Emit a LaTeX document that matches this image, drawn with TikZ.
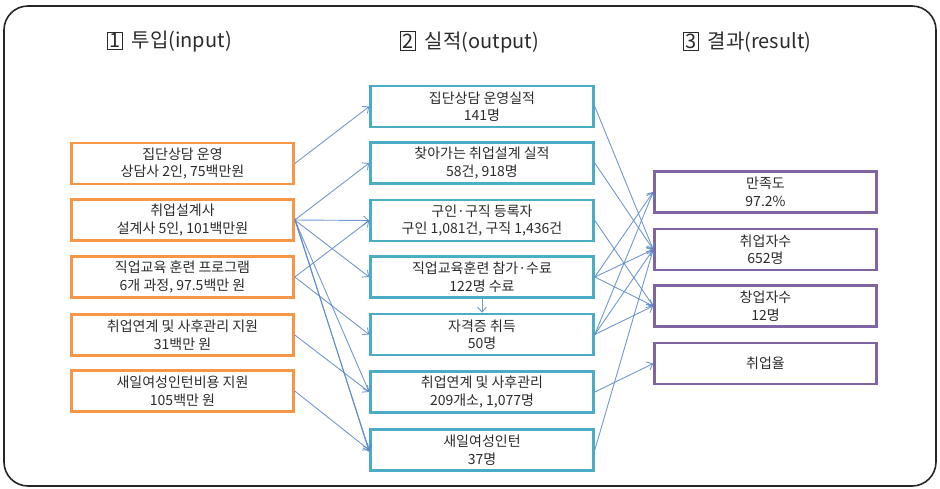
\documentclass[tikz,border=0pt]{standalone}
\usepackage{fontspec}
\setmainfont{Noto Sans CJK KR}
\newfontfamily\kr{Noto Sans CJK KR}
\usetikzlibrary{arrows.meta}
\definecolor{inorange}{HTML}{F79646}
\definecolor{outteal}{HTML}{4BACC6}
\definecolor{respurple}{HTML}{8064A2}
\definecolor{arrowblue}{HTML}{5A86C6}
\definecolor{txt}{HTML}{2B2B2B}
\begin{document}
\begin{tikzpicture}[x=1pt,y=-1pt,
  boxbase/.style={draw, line width=2.6pt, align=center, inner sep=0pt,
    minimum height=41pt, text=txt, font=\kr\fontsize{14}{17.5}\selectfont},
  inbox/.style={boxbase, draw=inorange, minimum width=222pt},
  outbox/.style={boxbase, draw=outteal, minimum width=223pt},
  resbox/.style={boxbase, draw=respurple, minimum width=222pt},
  hdr/.style={anchor=west, inner sep=0pt, text=txt, font=\kr\fontsize{20}{22}\selectfont},
  conn/.style={draw=arrowblue, draw opacity=0.85, line width=0.9pt,
    -{Straight Barb[length=5pt,width=9pt,line width=0.9pt]}}]
\useasboundingbox (0,0) rectangle (940,488);
\draw[line width=1.6pt, rounded corners=24pt, draw=black!85] (4,6) rectangle (936,486);

% headers
\node[hdr] (h1) at (107,42) {{\fboxsep=1.5pt\fboxrule=0.7pt\fbox{1}}\hspace{9pt}투입(input)};
\node[hdr] (h2) at (400,42) {{\fboxsep=1.5pt\fboxrule=0.7pt\fbox{2}}\hspace{9pt}실적(output)};
\node[hdr] (h3) at (683,42) {{\fboxsep=1.5pt\fboxrule=0.7pt\fbox{3}}\hspace{9pt}결과(result)};

% input boxes
\node[inbox] (L1) at (182.5,163.5) {집단상담 운영\\상담사 2인, 75백만원};
\node[inbox] (L2) at (182.5,220) {취업설계사\\설계사 5인, 101백만원};
\node[inbox] (L3) at (182.5,277) {직업교육 훈련 프로그램\\6개 과정, 97.5백만 원};
\node[inbox] (L4) at (182.5,335) {취업연계 및 사후관리 지원\\31백만 원};
\node[inbox] (L5) at (182.5,391) {새일여성인턴비용 지원\\105백만 원};

% output boxes
\node[outbox] (M1) at (482,106.5) {집단상담 운영실적\\141명};
\node[outbox] (M2) at (482,163) {찾아가는 취업설계 실적\\58건, 918명};
\node[outbox] (M3) at (482,220.5) {구인·구직 등록자\\구인 1,081건, 구직 1,436건};
\node[outbox] (M4) at (482,277) {직업교육훈련 참가·수료\\122명 수료};
\node[outbox] (M5) at (482,334.5) {자격증 취득\\50명};
\node[outbox] (M6) at (482,392) {취업연계 및 사후관리\\209개소, 1,077명};
\node[outbox] (M7) at (482,450) {새일여성인턴\\37명};

% result boxes
\node[resbox] (R1) at (765.5,192) {만족도\\97.2\%};
\node[resbox] (R2) at (765.5,249.5) {취업자수\\652명};
\node[resbox] (R3) at (765.5,306) {창업자수\\12명};
\node[resbox] (R4) at (765.5,363.5) {취업율};

% input -> output
\draw[conn] (L1.east) -- (M1.west);
\draw[conn] (L2.east) -- (M2.west);
\draw[conn] (L2.east) -- (M3.west);
\draw[conn] (L2.east) -- (M4.west);
\draw[conn] (L2.east) -- (M6.west);
\draw[conn] (L2.east) -- (M7.west);
\draw[conn] ([yshift=2pt]L2.east) -- ([yshift=-2pt]M7.west);
\draw[conn] (L3.east) -- (M3.west);
\draw[conn] (L3.east) -- (M5.west);
\draw[conn] (L4.east) -- (M6.west);
\draw[conn] (L5.east) -- (M7.west);
\draw[conn] (M4.south) -- (M5.north);

% output -> result
\draw[conn] (M1.east) -- (R2.west);
\draw[conn] (M2.east) -- (R2.west);
\draw[conn] (M3.east) -- (R3.west);
\draw[conn] (M4.east) -- (R1.west);
\draw[conn] (M4.east) -- (R2.west);
\draw[conn] (M4.east) -- (R3.west);
\draw[conn] (M5.east) -- (R1.west);
\draw[conn] (M5.east) -- (R2.west);
\draw[conn] (M5.east) -- (R3.west);
\draw[conn] (M6.east) -- (R4.west);
\draw[conn] (M7.east) -- (R2.west);
\end{tikzpicture}
\end{document}
